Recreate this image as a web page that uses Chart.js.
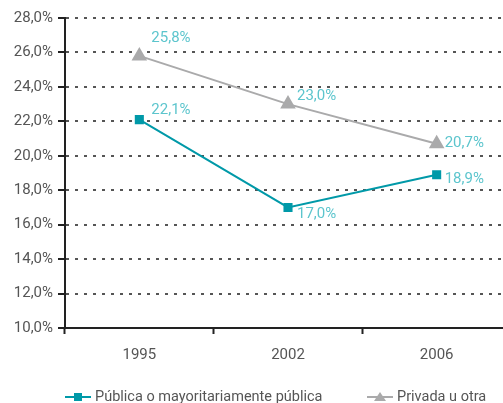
<!DOCTYPE html>
<html><head><meta charset="utf-8">
<script src="https://cdn.jsdelivr.net/npm/chart.js@4/dist/chart.umd.min.js"></script>
<style>
html,body{margin:0;padding:0;background:#fff;overflow:hidden;width:503px;height:403px}
#c{display:block;position:absolute;left:0;top:0;width:520px;height:403px}
</style></head><body>
<canvas id="c" width="520" height="403"></canvas>
<script>
const categories = ['1995', '2002', '2006'];
const publicaValues = [22.1, 17.0, 18.9];
const privadaValues = [25.8, 23.0, 20.7];
const seriesNames = ['Pública o mayoritariamente pública', 'Privada u otra'];
const yTicks = [10, 12, 14, 16, 18, 20, 22, 24, 26, 28];

const TEAL = '#0099a8', GRAY = '#aaaaab', LABEL = '#5cc5cd', TXT = '#555555';
const FONT = 'Roboto, "DejaVu Sans", sans-serif';
const fmt = v => v.toFixed(1).replace('.', ',') + '%';

const labelOffsets = [
  [[12, -9], [9, 7], [8, 5]],     // publica
  [[12, -18], [9, -8], [8, 0]]    // privada
];

const labelPlugin = {
  id: 'pointLabels',
  afterDatasetsDraw(chart) {
    const ctx = chart.ctx;
    ctx.save();
    ctx.font = '15px ' + FONT;
    ctx.fillStyle = LABEL;
    ctx.textAlign = 'left';
    ctx.textBaseline = 'middle';
    chart.data.datasets.forEach((ds, di) => {
      chart.getDatasetMeta(di).data.forEach((pt, i) => {
        const o = labelOffsets[di][i];
        ctx.fillText(fmt(ds.data[i]), pt.x + o[0], pt.y + o[1]);
      });
    });
    ctx.restore();
  }
};

const legendPlugin = {
  id: 'customLegend',
  afterDraw(chart) {
    const ctx = chart.ctx;
    ctx.save();
    ctx.font = '14.5px ' + FONT;
    ctx.textBaseline = 'middle';
    const y = 397;
    const items = [{x: 65, color: TEAL, style: 'rect'}, {x: 367, color: GRAY, style: 'triangle'}];
    items.forEach((it, k) => {
      ctx.strokeStyle = it.color; ctx.lineWidth = 2;
      ctx.beginPath(); ctx.moveTo(it.x, y); ctx.lineTo(it.x + 26, y); ctx.stroke();
      ctx.fillStyle = it.color;
      const cx = it.x + 13;
      if (it.style === 'rect') { ctx.fillRect(cx - 4, y - 4, 8, 8); }
      else { ctx.beginPath(); ctx.moveTo(cx, y - 5); ctx.lineTo(cx + 6, y + 4); ctx.lineTo(cx - 6, y + 4); ctx.closePath(); ctx.fill(); }
      ctx.fillStyle = TXT;
      ctx.fillText(seriesNames[k], it.x + 30, y);
    });
    ctx.restore();
  }
};

new Chart(document.getElementById('c'), {
  type: 'line',
  data: {
    labels: categories,
    datasets: [
      {label: seriesNames[0], data: publicaValues, borderColor: TEAL, backgroundColor: TEAL,
       borderWidth: 2, pointStyle: 'rect', pointRadius: 5, pointHoverRadius: 5, tension: 0},
      {label: seriesNames[1], data: privadaValues, borderColor: GRAY, backgroundColor: GRAY,
       borderWidth: 2, pointStyle: 'triangle', pointRadius: 7, pointHoverRadius: 7, tension: 0}
    ]
  },
  options: {
    responsive: false, animation: false, devicePixelRatio: 1,
    layout: {padding: {top: 18, right: 5, left: 0, bottom: 0}},
    plugins: {legend: {display: false}, tooltip: {enabled: false}},
    scales: {
      x: {
        offset: true,
        grid: {offset: true, drawOnChartArea: false, tickLength: 6, tickColor: '#222', tickWidth: 2},
        border: {color: '#222', width: 2},
        ticks: {color: TXT, font: {family: FONT, size: 15}, padding: 12},
        afterFit(s) { s.height = 75; }
      },
      y: {
        min: 10, max: 28,
        afterBuildTicks(s) { s.ticks = yTicks.map(v => ({value: v})); },
        grid: {color: '#555', lineWidth: 2, tickLength: 7, tickColor: '#222', tickWidth: 2, tickBorderDash: [0, 0]},
        border: {color: '#222', width: 2, dash: [3, 6]},
        ticks: {color: TXT, font: {family: FONT, size: 15}, padding: 5, callback: v => fmt(v)},
        afterFit(s) { s.width = 65; }
      }
    }
  },
  plugins: [labelPlugin, legendPlugin]
});
</script>
</body></html>
